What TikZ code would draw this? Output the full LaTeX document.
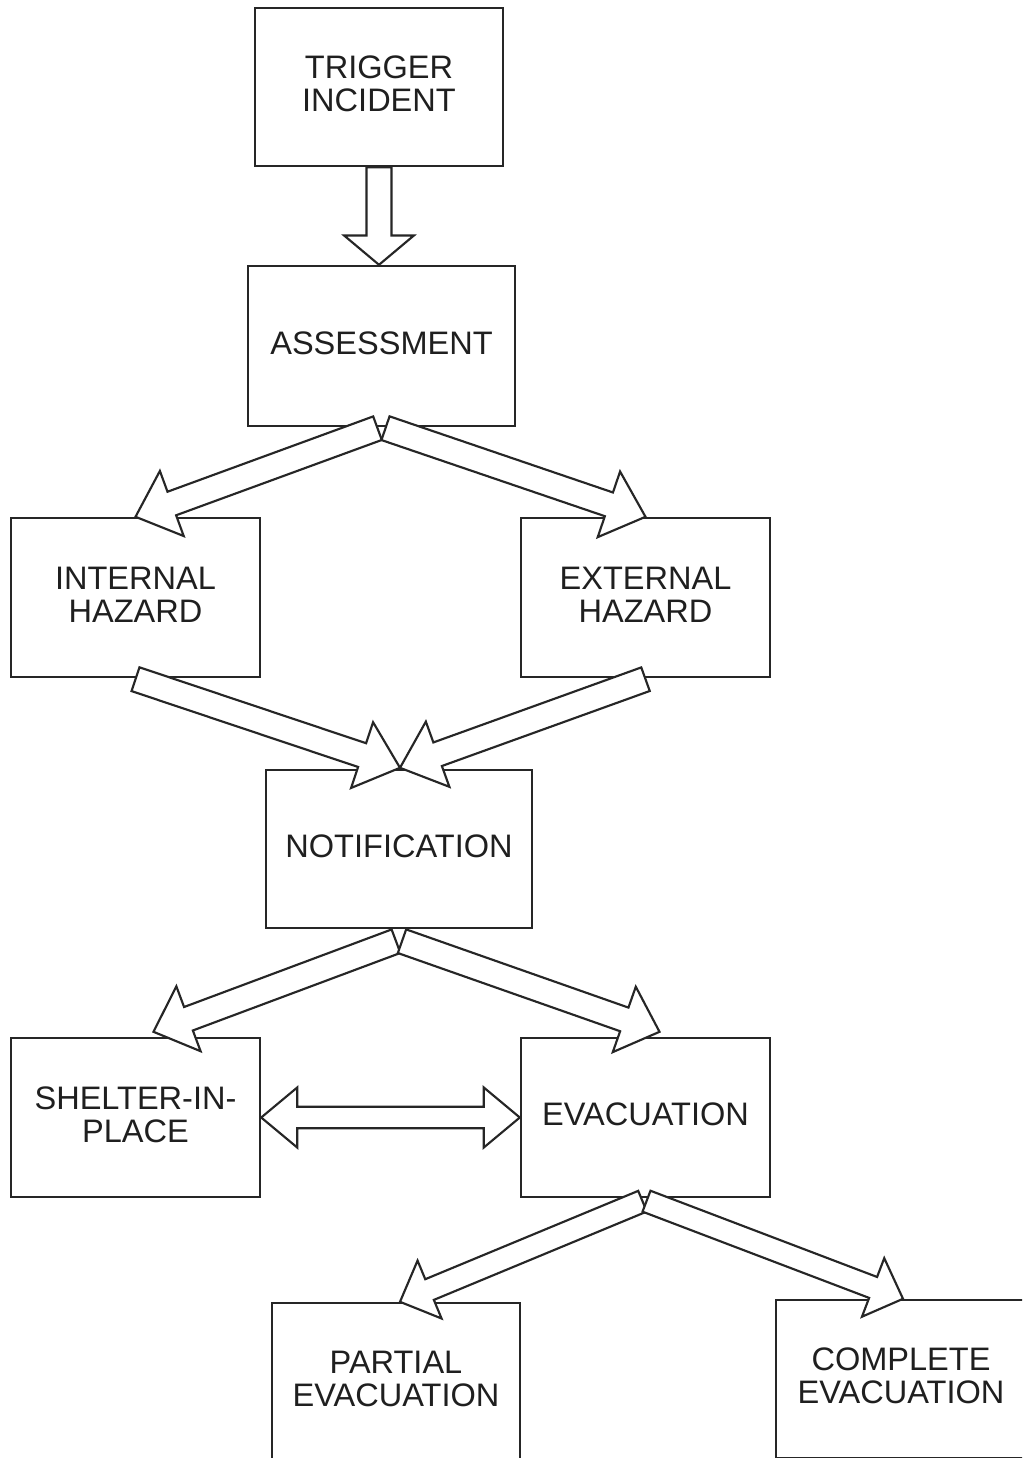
\documentclass[tikz,border=0pt]{standalone}
\usepackage{fontspec}
\setmainfont{Liberation Sans}
\usetikzlibrary{calc}
\tikzset{
  box/.style 2 args={draw=black!85, line width=1.8pt, fill=white,
    minimum width=#1*0.75pt, minimum height=#2*0.75pt, inner sep=0pt,
    align=center, text=black!88, text depth=4.5pt,
    font=\fontsize{24.4pt}{24.75pt}\selectfont},
  arr/.style={draw=black!85, line width=1.6pt, fill=white, line join=miter},
}
\newcommand\blockarrow[6]{%
  \coordinate (#6n) at ($(#2)!#5!(#1)$);
  \draw[arr] ($(#1)!#3!90:(#2)$) -- ($(#6n)!#3!90:(#2)$) -- ($(#6n)!#4!90:(#2)$)
    -- (#2) -- ($(#6n)!#4!-90:(#2)$) -- ($(#6n)!#3!-90:(#2)$)
    -- ($(#1)!#3!-90:(#2)$) -- cycle;
}
\begin{document}
\begin{tikzpicture}[x=0.75pt, y=-0.75pt]
\useasboundingbox (0,0) rectangle (1022,1458);
\fill[white] (0,0) rectangle (1022,1458);
\clip (0,0) rectangle (1022,1458);

\node[box={248}{158}] (trig)     at (379,87)     {TRIGGER\\INCIDENT};
\node[box={267}{160}] (assess)   at (381.5,346)  {ASSESSMENT};
\node[box={249}{159}] (intern)   at (135.5,597.5) {INTERNAL\\HAZARD};
\node[box={249}{159}] (extern)   at (645.5,597.5) {EXTERNAL\\HAZARD};
\node[box={266}{158}] (notif)    at (399,849)    {NOTIFICATION};
\node[box={249}{159}] (shelter)  at (135.5,1117.5) {SHELTER-IN-\\PLACE};
\node[box={249}{159}] (evac)     at (645.5,1117.5) {EVACUATION};
\node[box={248}{158}] (partial)  at (396,1382)   {PARTIAL\\EVACUATION};
\node[box={250}{158}] (complete) at (901,1379)   {COMPLETE\\EVACUATION};

% trigger -> assessment
\coordinate (t1) at (trig.south);
\coordinate (h1) at (trig.south |- assess.north);
\blockarrow{t1}{h1}{9.4pt}{26.2pt}{22pt}{a1}

% assessment -> hazards
\coordinate (t2L) at ($(assess.south)+(-4,1)$);
\coordinate (t2R) at ($(assess.south)+(4,1)$);
\coordinate (h2L) at (intern.north);
\coordinate (h2R) at (extern.north);
\blockarrow{t2L}{h2L}{9.4pt}{26pt}{29pt}{a2}
\blockarrow{t2R}{h2R}{9.4pt}{26pt}{29pt}{a3}

% hazards -> notification
\coordinate (t3L) at ($(intern.south)+(0,1)$);
\coordinate (t3R) at ($(extern.south)+(0,1)$);
\coordinate (h3) at ($(notif.north)+(1,-1)$);
\blockarrow{t3L}{h3}{9.4pt}{26pt}{30pt}{a4}
\blockarrow{t3R}{h3}{9.4pt}{26pt}{30pt}{a5}

% notification -> shelter / evacuation
\coordinate (t4L) at ($(notif.south)+(-3,12)$);
\coordinate (t4R) at ($(notif.south)+(3,12)$);
\coordinate (h4L) at ($(shelter.north)+(18,-5)$);
\coordinate (h4R) at ($(evac.north)+(14,-5)$);
\blockarrow{t4L}{h4L}{9.4pt}{26pt}{28pt}{a6}
\blockarrow{t4R}{h4R}{9.4pt}{26pt}{28pt}{a7}

% shelter <-> evacuation
\coordinate (d1) at (shelter.east);
\coordinate (d2) at (evac.west);
\draw[arr] (d1) -- ($(d1)+(36,-30)$) -- ($(d1)+(36,-10.8)$) -- ($(d2)+(-36,-10.8)$)
  -- ($(d2)+(-36,-30)$) -- (d2) -- ($(d2)+(-36,30)$) -- ($(d2)+(-36,10.8)$)
  -- ($(d1)+(36,10.8)$) -- ($(d1)+(36,30)$) -- cycle;

% evacuation -> partial / complete
\coordinate (t6L) at ($(evac.south)+(-3,3)$);
\coordinate (t6R) at ($(evac.south)+(1,3)$);
\coordinate (h6L) at ($(partial.north)+(4,0)$);
\coordinate (h6R) at ($(complete.north)+(2,0)$);
\blockarrow{t6L}{h6L}{8.4pt}{23.5pt}{24pt}{a8}
\blockarrow{t6R}{h6R}{8.4pt}{23.5pt}{24pt}{a9}
\end{tikzpicture}
\end{document}
